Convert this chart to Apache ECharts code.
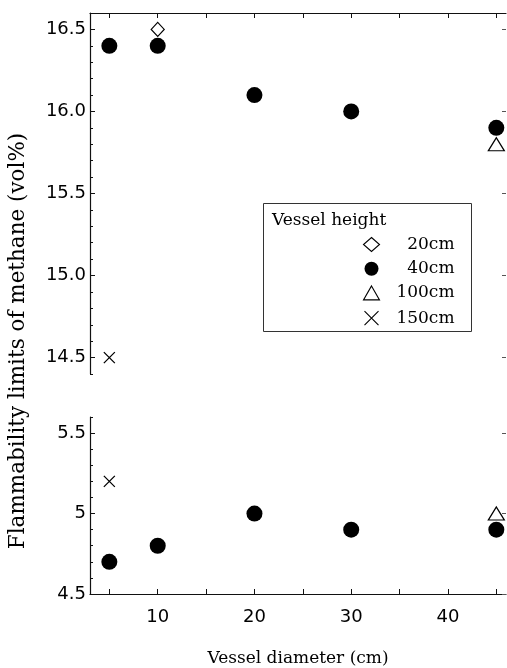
<!DOCTYPE html>
<html>
<head>
<meta charset="utf-8">
<script src="https://cdn.jsdelivr.net/npm/echarts@6/dist/echarts.min.js"></script>
<style>html,body{margin:0;padding:0;background:#fff}#c{width:507px;height:668px}</style>
</head>
<body>
<div id="c"></div>
<script>
// ---- data ----
const xTicks = [5, 10, 15, 20, 25, 30, 35, 40, 45];
const xLabels = [10, 20, 30, 40];
const upperMajor = [14.5, 15.0, 15.5, 16.0, 16.5];
const upperMinor = [14.4, 14.5, 14.6, 14.7, 14.8, 14.9, 15.0, 15.1, 15.2, 15.3, 15.4, 15.5, 15.6, 15.7, 15.8, 15.9, 16.0, 16.1, 16.2, 16.3, 16.4, 16.5, 16.6];
const lowerMajor = [4.5, 5.0, 5.5];
const lowerMinor = [4.5, 4.6, 4.7, 4.8, 4.9, 5.0, 5.1, 5.2, 5.3, 5.4, 5.5, 5.6];

const diam40 = [5, 10, 20, 30, 45];
const upper40 = [16.4, 16.4, 16.1, 16.0, 15.9];
const lower40 = [4.7, 4.8, 5.0, 4.9, 4.9];
const diam20 = [10];
const upper20 = [16.5];
const diam100 = [45];
const upper100 = [15.8];
const lower100 = [5.0];
const diam150 = [5];
const upper150 = [14.5];
const lower150 = [5.2];

const legendNames = ['20cm', '40cm', '100cm', '150cm'];

const pairs = (xs, ys) => xs.map((x, i) => [x, ys[i]]);

const SANS = 'DejaVu Sans';
const SERIF = 'DejaVu Serif';
const INK = '#111';
const crossPath = 'path://M0,0L10,10M10,0L0,10';

function xAx(grid, pos, labels) {
  return {
    type: 'value', gridIndex: grid, position: pos, min: 3, max: 46,
    axisLine: { show: true, lineStyle: { color: INK, width: 1.2 } },
    axisTick: { show: true, inside: true, length: 5, customValues: xTicks, lineStyle: { color: INK } },
    axisLabel: labels ? { show: true, customValues: xLabels, color: '#000', fontFamily: SANS, fontSize: 18, margin: 14 } : { show: false },
    splitLine: { show: false }
  };
}
function yMajor(grid, min, max, major, fmt) {
  return {
    type: 'value', gridIndex: grid, position: 'left', min, max,
    axisLine: { show: true, lineStyle: { color: INK, width: 1.2 } },
    axisTick: { show: true, inside: true, length: 5, customValues: major, lineStyle: { color: INK } },
    axisLabel: { show: true, customValues: major, formatter: fmt, color: '#000', fontFamily: SANS, fontSize: 18, margin: 4 },
    splitLine: { show: false }
  };
}
function yMinor(grid, min, max, minor) {
  return {
    type: 'value', gridIndex: grid, position: 'left', min, max,
    axisLine: { show: false },
    axisTick: { show: true, inside: true, length: 3, customValues: minor, lineStyle: { color: INK } },
    axisLabel: { show: false }, splitLine: { show: false }
  };
}
function yRight(grid, min, max, major) {
  return {
    type: 'value', gridIndex: grid, position: 'right', min, max,
    axisLine: { show: false },
    axisTick: { show: true, inside: true, length: 4, customValues: major, lineStyle: { color: '#555' } },
    axisLabel: { show: false }, splitLine: { show: false }
  };
}

const circleStyle = { color: '#000', opacity: 1 };
const hollow = { color: '#fff', borderColor: '#000', borderWidth: 1.2, opacity: 1 };
const crossStyle = { color: 'none', borderColor: '#000', borderWidth: 1.3, opacity: 1 };

const chart = echarts.init(document.getElementById('c'), null, { renderer: 'canvas' });
chart.setOption({
  animation: false,
  backgroundColor: '#fff',
  grid: [
    { left: 90, right: 1, top: 13, height: 361 },
    { left: 90, right: 1, top: 417, height: 180 }
  ],
  xAxis: [
    xAx(0, 'top', false),
    Object.assign(xAx(1, 'bottom', true), {
      name: 'Vessel diameter (cm)', nameLocation: 'middle', nameGap: 56,
      nameTextStyle: { fontFamily: SERIF, fontSize: 17, color: '#000' }
    })
  ],
  yAxis: [
    yMajor(0, 14.4, 16.6, upperMajor, v => v.toFixed(1)),
    yMinor(0, 14.4, 16.6, upperMinor),
    yRight(0, 14.4, 16.6, upperMajor),
    yMajor(1, 4.5, 5.6, lowerMajor, v => String(v)),
    yMinor(1, 4.5, 5.6, lowerMinor),
    yRight(1, 4.5, 5.6, lowerMajor)
  ],
  legend: {
    data: legendNames, orient: 'vertical', left: 357, top: 231,
    itemWidth: 16, itemHeight: 14, itemGap: 7.2,
    itemStyle: { borderWidth: 1.1 },
    formatter: n => '{r|' + n + '}',
    textStyle: { color: '#000', fontFamily: SERIF, fontSize: 17, lineHeight: 14,
      rich: { r: { width: 70, align: 'right', fontFamily: SERIF, fontSize: 17, lineHeight: 14, color: '#000' } } }
  },
  graphic: [
    { type: 'rect', shape: { x: 263.5, y: 203.5, width: 208, height: 128 },
      style: { fill: 'none', stroke: '#333', lineWidth: 1 }, z: 1 },
    { type: 'text', x: 272, y: 221, style: { text: 'Vessel height', font: '17px "DejaVu Serif"', fill: '#000', textVerticalAlign: 'middle' }, z: 2 },
    { type: 'text', x: 18, y: 341, rotation: Math.PI / 2,
      style: { text: 'Flammability limits of methane (vol%)', font: '21.5px "DejaVu Serif"', fill: '#000', textAlign: 'center', textVerticalAlign: 'middle' } }
  ],
  series: [
    { name: '20cm', type: 'scatter', xAxisIndex: 0, yAxisIndex: 0, data: pairs(diam20, upper20),
      symbol: 'diamond', symbolSize: [13, 14], itemStyle: hollow, z: 3 },
    { name: '40cm', type: 'scatter', xAxisIndex: 0, yAxisIndex: 0, data: pairs(diam40, upper40),
      symbol: 'circle', symbolSize: 16, itemStyle: circleStyle },
    { name: '100cm', type: 'scatter', xAxisIndex: 0, yAxisIndex: 0, data: pairs(diam100, upper100),
      symbol: 'triangle', symbolSize: [16, 13], itemStyle: hollow },
    { name: '150cm', type: 'scatter', xAxisIndex: 0, yAxisIndex: 0, data: pairs(diam150, upper150),
      symbol: crossPath, symbolSize: 11, itemStyle: crossStyle },
    { name: '40cm', type: 'scatter', xAxisIndex: 1, yAxisIndex: 3, data: pairs(diam40, lower40),
      symbol: 'circle', symbolSize: 16, itemStyle: circleStyle },
    { name: '100cm', type: 'scatter', xAxisIndex: 1, yAxisIndex: 3, data: pairs(diam100, lower100),
      symbol: 'triangle', symbolSize: [16, 13], itemStyle: hollow },
    { name: '150cm', type: 'scatter', xAxisIndex: 1, yAxisIndex: 3, data: pairs(diam150, lower150),
      symbol: crossPath, symbolSize: 11, itemStyle: crossStyle }
  ]
});
</script>
</body>
</html>
